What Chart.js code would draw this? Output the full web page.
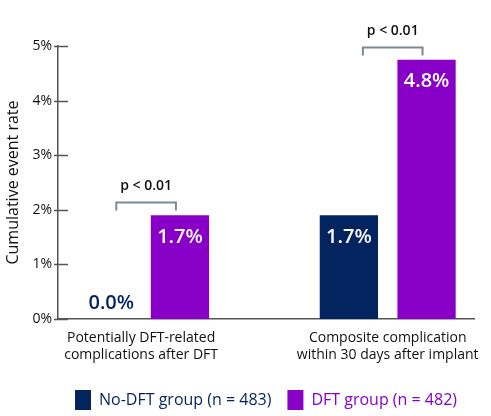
<!DOCTYPE html>
<html>
<head>
<meta charset="utf-8">
<style>
  html, body { margin: 0; padding: 0; background: #fff; }
  #wrap { width: 491px; height: 416px; }
</style>
</head>
<body>
<div id="wrap">
  <canvas id="myChart"></canvas>
</div>

<script src="https://cdn.jsdelivr.net/npm/chart.js"></script>

<script>
// values
const categories = [
  ["Potentially DFT-related", "complications after DFT"],
  ["Composite complication", "within 30 days after implant"]
];
const seriesNames = ["No-DFT group (n = 483)", "DFT group (n = 482)"];
const noDftValues = [0.0, 1.9];   // bar heights as drawn
const dftValues = [1.9, 4.75];
const noDftLabels = ["0.0%", "1.7%"]; // printed values
const dftLabels = ["1.7%", "4.8%"];
const pValues = ["p < 0.01", "p < 0.01"];
const yTicks = [0, 1, 2, 3, 4, 5];

const NAVY = "#04245f";
const PURPLE = "#8800c8";
const FONT = "'Open Sans', sans-serif";

const valueLabels = [noDftLabels, dftLabels];

// white value labels inside the bars, p-value brackets above each pair, inward y ticks
const annotations = {
  id: "annotations",
  afterDatasetsDraw(chart) {
    const ctx = chart.ctx;
    const y = chart.scales.y;
    const area = chart.chartArea;
    ctx.save();

    // inward tick marks on the y axis
    ctx.strokeStyle = "#555";
    ctx.lineWidth = 1.5;
    yTicks.forEach(t => {
      const py = Math.round(y.getPixelForValue(t)) + 0.5;
      ctx.beginPath();
      ctx.moveTo(area.left - 4, py);
      ctx.lineTo(area.left + 10, py);
      ctx.stroke();
    });

    ctx.textAlign = "center";
    ctx.textBaseline = "middle";
    ctx.font = "600 20px " + FONT;
    chart.data.datasets.forEach((ds, d) => {
      const meta = chart.getDatasetMeta(d);
      meta.data.forEach((bar, i) => {
        const h = bar.base - bar.y;
        if (h > 40) {
          ctx.fillStyle = "#fff";
          ctx.fillText(valueLabels[d][i], bar.x, bar.y + 22);
        } else {
          ctx.fillStyle = ds.backgroundColor;
          ctx.fillText(valueLabels[d][i], bar.x + 9, bar.base - 16);
        }
      });
    });

    const m0 = chart.getDatasetMeta(0).data;
    const m1 = chart.getDatasetMeta(1).data;
    pValues.forEach((p, i) => {
      const left = m0[i].x + 14;
      const right = m1[i].x - 4;
      const top = Math.round(Math.min(m0[i].y, m1[i].y) - 13) + 0.5;
      ctx.strokeStyle = "#7b8a95";
      ctx.lineWidth = 2;
      ctx.beginPath();
      ctx.moveTo(left, top + 8);
      ctx.lineTo(left, top);
      ctx.lineTo(right, top);
      ctx.lineTo(right, top + 8);
      ctx.stroke();
      ctx.fillStyle = "#111";
      ctx.font = "600 14px " + FONT;
      ctx.fillText(p, (left + right) / 2, top - 16);
    });
    ctx.restore();
  }
};

const config = {
  type: "bar",
  data: {
    datasets: [
      {
        label: seriesNames[0],
        data: noDftValues.map((v, i) => ({ x: i, y: v })),
        backgroundColor: NAVY,
        borderWidth: 0
      },
      {
        label: seriesNames[1],
        data: dftValues.map((v, i) => ({ x: i, y: v })),
        backgroundColor: PURPLE,
        borderWidth: 0
      }
    ]
  },
  options: {
    responsive: true,
    maintainAspectRatio: false,
    animation: false,
    categoryPercentage: 0.63,
    barPercentage: 0.75,
    layout: { padding: { top: 46, right: 7, left: 0, bottom: -4 } },
    scales: {
      x: {
        type: "linear",
        min: -0.337,
        max: 1.35,
        offset: false,
        grid: { display: false, drawTicks: false },
        border: { display: true, color: "#555", width: 1.5 },
        afterBuildTicks: s => { s.ticks = [{ value: 0 }, { value: 1 }]; },
        afterFit: s => { s.height = 55; },
        ticks: {
          padding: 11,
          color: "#111",
          font: { family: FONT, size: 14 },
          callback: v => categories[v]
        }
      },
      y: {
        min: 0,
        max: 5,
        afterBuildTicks: s => { s.ticks = yTicks.map(v => ({ value: v })); },
        afterFit: s => { s.width = 58; },
        grid: { display: false, drawTicks: false },
        border: { display: true, color: "#555", width: 1.5 },
        ticks: {
          padding: 6,
          color: "#111",
          font: { family: FONT, size: 14 },
          callback: v => v + "%"
        },
        title: {
          display: true,
          text: "Cumulative event rate",
          color: "#111",
          font: { family: FONT, size: 16 }
        }
      }
    },
    plugins: {
      tooltip: { enabled: false },
      legend: {
        position: "bottom",
        fullSize: false,
        labels: {
          boxWidth: 16,
          boxHeight: 20,
          padding: 16,
          font: { family: FONT, size: 16, weight: "500" },
          generateLabels: chart => chart.data.datasets.map((ds, i) => ({
            text: ds.label,
            fillStyle: ds.backgroundColor,
            strokeStyle: ds.backgroundColor,
            lineWidth: 0,
            fontColor: ds.backgroundColor,
            datasetIndex: i
          }))
        }
      }
    }
  },
  plugins: [annotations]
};

const ctx = document.getElementById("myChart");
const chart = new Chart(ctx, config);
</script>
</body>
</html>
